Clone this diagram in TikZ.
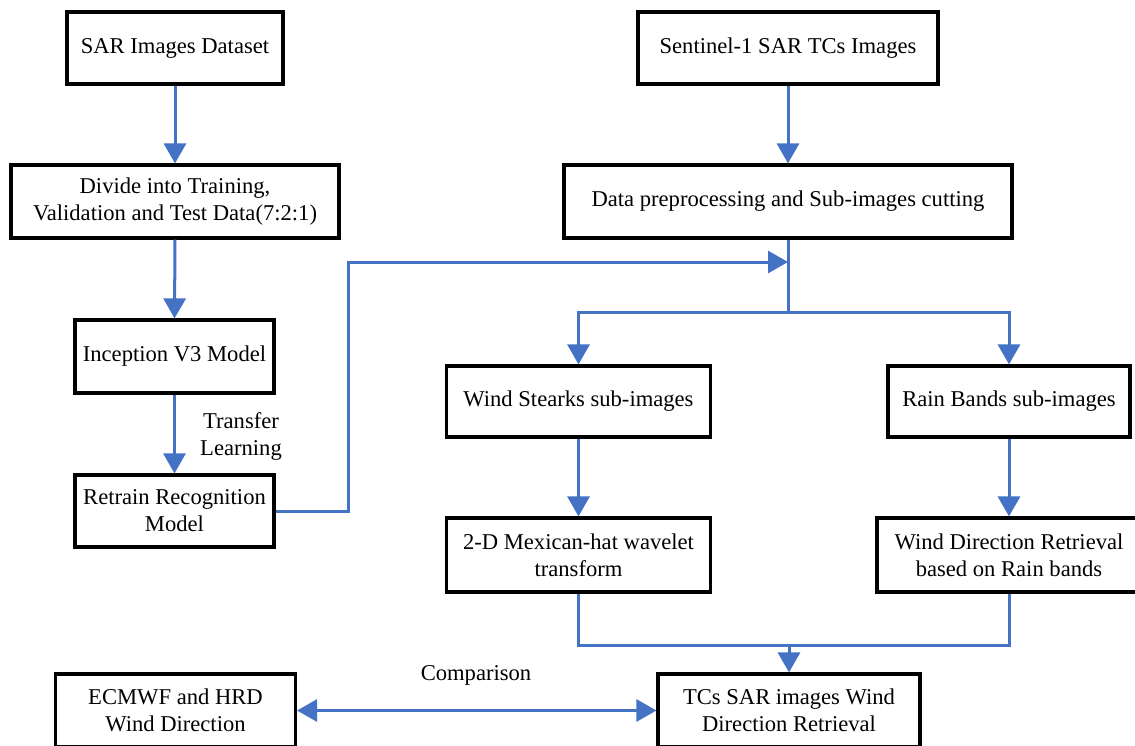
\documentclass[tikz,border=0pt]{standalone}
\usepackage{fontspec}
\setmainfont{Liberation Serif}
\newfontfamily\tnrfont{Liberation Serif}
\usetikzlibrary{arrows.meta}
\definecolor{lineblue}{HTML}{4472C4}
\begin{document}
\begin{tikzpicture}[x=1pt,y=-1pt,
  box/.style={draw=black,line width=3.2pt,rectangle,inner sep=0pt,align=center,
    font=\tnrfont\fontsize{22.6}{27}\selectfont,text=black},
  conn/.style={draw=lineblue,line width=3pt},
  arr/.style={conn,-{Triangle[width=22pt,length=20pt]}},
  darr/.style={conn,{Triangle[width=22pt,length=20pt]}-{Triangle[width=22pt,length=20pt]}},
  lab/.style={align=center,font=\tnrfont\fontsize{22.6}{27}\selectfont,inner sep=0pt}]
\useasboundingbox (0,0) rectangle (1135,745);
\fill[white] (0,0) rectangle (1135,745);
% left column
\node[box,minimum width=216pt,minimum height=72pt] (sar) at (175,48) {SAR Images Dataset};
\node[box,minimum width=328pt,minimum height=73pt] (div) at (175,201.5) {Divide into Training,\\Validation and Test Data(7:2:1)};
\node[box,minimum width=199pt,minimum height=73pt] (inc) at (174.5,356.5) {Inception V3 Model};
\node[box,minimum width=199pt,minimum height=72pt] (ret) at (174.5,511) {Retrain Recognition\\Model};
% right column
\node[box,minimum width=300pt,minimum height=72pt] (sen) at (788,48) {Sentinel-1 SAR TCs Images};
\node[box,minimum width=448pt,minimum height=73pt] (dp) at (788,201.5) {Data preprocessing and Sub-images cutting};
\node[box,minimum width=264pt,minimum height=71pt] (ws) at (578.5,401.5) {Wind Stearks sub-images};
\node[box,minimum width=242pt,minimum height=71pt] (rb) at (1009,401.5) {Rain Bands sub-images};
\node[box,minimum width=264pt,minimum height=74pt] (mh) at (578.5,555) {2-D Mexican-hat wavelet\\transform};
\node[box,minimum width=264pt,minimum height=74pt] (wd) at (1009,555) {Wind Direction Retrieval\\based on Rain bands};
\node[box,minimum width=262pt,minimum height=73pt] (tcs) at (789,710.5) {TCs SAR images Wind\\Direction Retrieval};
\node[box,minimum width=240pt,minimum height=73pt] (ec) at (175.5,710.5) {ECMWF and HRD\\Wind Direction};
% labels
\node[lab] (tl) at (241,436) {Transfer\\Learning};
\node[lab] (cmp) at (476,675) {Comparison};
% coordinates
\coordinate (b1) at (788,312);
\coordinate (bl) at (578.5,312);
\coordinate (br) at (1009,312);
\coordinate (fb1) at (348,511);
\coordinate (fb2) at (348,262);
\coordinate (fb3) at (788,262);
\coordinate (j1) at (578.5,645);
\coordinate (j2) at (1009,645);
\coordinate (jm) at (789,645);
% connectors
\draw[arr] (sar.south) -- (div.north);
\draw[arr] (div.south) -- (inc.north);
\draw[arr] (inc.south) -- (ret.north);
\draw[arr] (sen.south) -- (dp.north);
\draw[conn] (dp.south) -- (b1);
\draw[arr] (b1) -- (bl) -- (ws.north);
\draw[arr] (b1) -- (br) -- (rb.north);
\draw[arr] (ret.east) -- (fb1) -- (fb2) -- (fb3);
\draw[arr] (ws.south) -- (mh.north);
\draw[arr] (rb.south) -- (wd.north);
\draw[conn] (mh.south) -- (j1) -- (j2) -- (wd.south);
\draw[arr] (jm) -- (tcs.north);
\draw[darr] (ec.east) -- (tcs.west);
\end{tikzpicture}
\end{document}
